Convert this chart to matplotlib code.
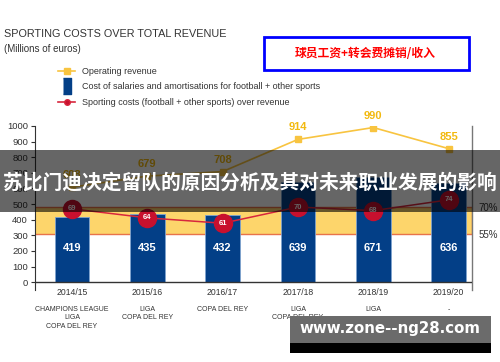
import numpy as np
import matplotlib.pyplot as plt
from matplotlib import font_manager
from matplotlib.lines import Line2D
from matplotlib.patches import Rectangle

names = {f.name for f in font_manager.fontManager.ttflist}
base = 'Liberation Sans Narrow' if 'Liberation Sans Narrow' in names else 'Liberation Sans'
plt.rcParams['font.family'] = [base, 'DejaVu Sans']

seasons = ["2014/15", "2015/16", "2016/17", "2017/18", "2018/19", "2019/20"]
trophies = ["CHAMPIONS LEAGUE\nLIGA\nCOPA DEL REY", "LIGA\nCOPA DEL REY",
            "COPA DEL REY", "LIGA\nCOPA DEL REY", "LIGA", "-"]
revenue = [608, 679, 708, 914, 990, 855]
salaries = [419, 435, 432, 639, 671, 636]
ratio = [69, 64, 61, 70, 68, 74]
band = (55, 70)  # % range shown as the yellow band

blue = "#033F87"
gold = "#F8C440"
red = "#C8102E"

fig = plt.figure(figsize=(5, 3.62), dpi=100)
ax = fig.add_axes([0.07, 0.199, 0.874, 0.453])
x = np.arange(len(seasons))

ax.set_xlim(-0.49, 5.31)
ax.set_ylim(-50, 1000)

# % scale on the right, band edges line up with 308 / 481 on the left scale
k = (band[1] - band[0]) / 173
ax2 = ax.twinx()
ax2.set_ylim(band[0] - 358 * k, band[0] + 692 * k)
ax2.axhspan(band[0], band[1], xmin=-0.01, xmax=1, facecolor="#FDD56B",
            edgecolor="#E8734A", lw=1, zorder=0)

ax.set_zorder(ax2.get_zorder() + 1)
ax.patch.set_visible(False)

ax.bar(x, salaries, width=0.46, color=blue, edgecolor="#7FA3CF", lw=0.6, zorder=2)
for xi, v in zip(x, salaries):
    ax.text(xi, 220, str(v), color="white", fontsize=8, fontweight="bold",
            ha="center", va="center", zorder=3)

ax.plot(x, revenue, color=gold, lw=1.2, marker="s", ms=4.5, zorder=3)
for xi, v in zip(x, revenue):
    ax.text(xi, v + 45, str(v), color="#F2B90F", fontsize=8,
            fontweight="bold", ha="center", va="bottom", zorder=3)

# red line on the % scale, above the bars
ax3 = ax.twinx()
ax3.set_ylim(ax2.get_ylim())
ax3.set_zorder(ax.get_zorder() + 1)
ax3.patch.set_visible(False)
ax3.plot(x, ratio, color="#D7263D", lw=1.1, marker="o", ms=13,
         markerfacecolor=red, markeredgecolor=red)
for xi, v in zip(x, ratio):
    ax3.text(xi, v, str(v), color="white", fontsize=5.5, fontweight="bold",
             ha="center", va="center")
ax3.axis("off")

ax2.set_yticks(list(band))
ax2.set_yticklabels([f"{b}%" for b in band])
ax2.tick_params(axis="y", length=0, labelsize=7, colors="#333333", pad=5)
for s in ["top", "bottom", "left"]:
    ax2.spines[s].set_visible(False)
ax2.spines["right"].set_color("#777777")
ax2.spines["right"].set_linewidth(1)

ax.axhline(0, color="#333333", lw=1, zorder=4)
for s in ["top", "right", "bottom"]:
    ax.spines[s].set_visible(False)
ax.spines["left"].set_color("#333333")
ax.set_yticks(range(0, 1001, 100))
ax.tick_params(axis="y", labelsize=6.8, colors="#333333", length=3, pad=2)
ax.set_xticks(x)
ax.set_xticklabels(seasons)
ax.tick_params(axis="x", length=0, labelsize=6.2, colors="#333333", pad=-1.5)
for xi, t in zip(x, trophies):
    ax.annotate(t, (xi, 0), xycoords=("data", "axes fraction"),
                xytext=(0, -11.5), textcoords="offset points", ha="center",
                va="top", fontsize=5, color="#333333", linespacing=1.3)

fig.text(0.008, 0.905, "SPORTING COSTS OVER TOTAL REVENUE", fontsize=7.8,
         color="#333333", va="center")
fig.text(0.008, 0.866, "(Millions of euros)", fontsize=7, color="#333333",
         va="center")

handles = [
    Line2D([], [], color=gold, lw=1.2, marker="s", ms=4),
    Line2D([], [], ls="none", marker=[(-0.5, -1), (0.5, -1), (0.5, 1), (-0.5, 1)],
           ms=11, color=blue),
    Line2D([], [], color="#D7263D", lw=1.2, marker="o", ms=4,
           markerfacecolor=red),
]
labels = ["Operating revenue",
          "Cost of salaries and amortisations for football + other sports",
          "Sporting costs (football + other sports) over revenue"]
fig.legend(handles, labels, loc="upper left", bbox_to_anchor=(0.1, 0.838),
           frameon=False, fontsize=6.5, handlelength=1.9, labelspacing=0.72,
           handletextpad=0.8, labelcolor="#333333")

fig.patches.append(Rectangle((0.527, 0.807), 0.41, 0.09, transform=fig.transFigure,
                             fill=False, edgecolor="#0000FF", lw=2))
fig.text(0.73, 0.852, "球员工资+转会费摊销/收入", fontsize=8.5, color="#FF0000",
         fontweight="bold", ha="center", va="center",
         family=["Noto Sans CJK SC", "DejaVu Sans"])

# watermark banners
fig.patches.append(Rectangle((0, 0.415), 1, 0.172, transform=fig.transFigure,
                             facecolor="#000000", alpha=0.6, zorder=10))
fig.text(0.5, 0.495, "苏比门迪决定留队的原因分析及其对未来职业发展的影响",
         fontsize=14.2, color="white", fontweight="bold", ha="center",
         va="center", family=["Noto Sans CJK SC", "DejaVu Sans"], zorder=11)
fig.patches.append(Rectangle((0.58, 0.05), 0.402, 0.078, transform=fig.transFigure,
                             facecolor="#6B6B6B", zorder=10))
fig.patches.append(Rectangle((0.58, 0.025), 0.402, 0.028, transform=fig.transFigure,
                             facecolor="#000000", zorder=10))
fig.text(0.78, 0.092, "www.zone--ng28.com", fontsize=10.8, color="white",
         fontweight="bold", ha="center", va="center",
         family=["DejaVu Sans"], zorder=11)

fig.savefig("out.png", dpi=100)
